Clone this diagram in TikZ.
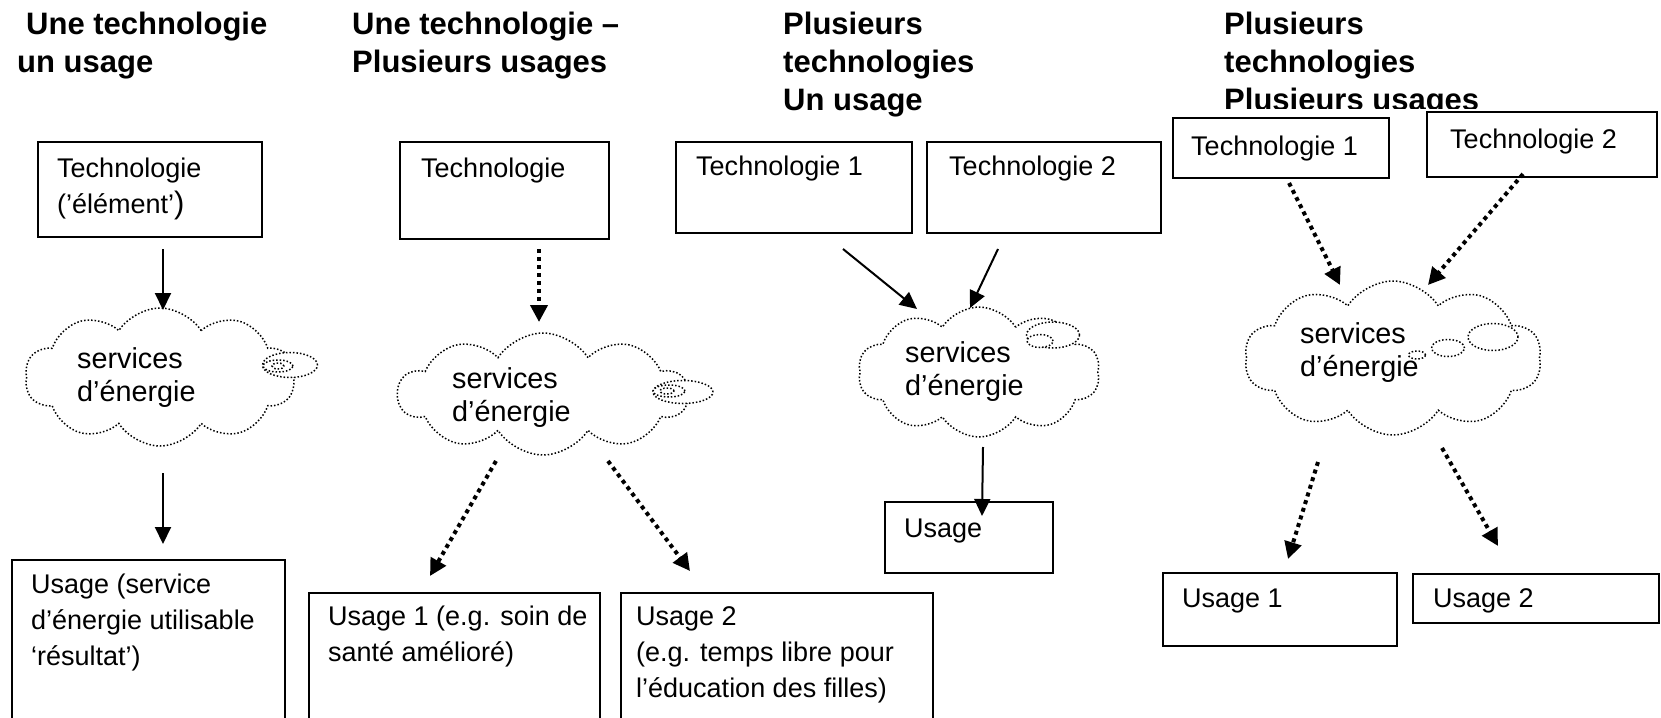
\documentclass[tikz,border=0pt]{standalone}
\usepackage{fontspec}
\setmainfont{Liberation Sans}
\usetikzlibrary{shapes.symbols,shapes.geometric,arrows.meta,fit,calc}

% multi-line text whose baseline is the first line
\newcommand{\ml}[1]{\begin{tabular}[t]{@{}l@{}}#1\end{tabular}}

\begin{document}
\begin{tikzpicture}[x=1pt,y=-1pt,
  box/.style={draw=black,line width=2pt,inner sep=0pt},
  txt/.style={anchor=base west,inner sep=0pt,font=\fontsize{27}{36}\selectfont},
  head/.style={anchor=base west,inner sep=0pt,font=\fontsize{31}{37.5}\selectfont\bfseries},
  ctxt/.style={anchor=base west,inner sep=0pt,font=\fontsize{28.8}{33}\selectfont},
  cloudy/.style={cloud,cloud puffs=10,cloud puff arc=115,cloud ignores aspect,
    draw=black,line width=1.5pt,dash pattern=on 1.5pt off 2pt,inner sep=0pt},
  bub/.style={ellipse,draw=black,fill=white,line width=1.5pt,
    dash pattern=on 1.5pt off 2pt,inner sep=0pt},
  solidarr/.style={draw=black,line width=2pt,-{Triangle[width=16pt,length=17pt]}},
  dotarr/.style={draw=black,line width=4pt,dash pattern=on 4pt off 4pt,
    -{Triangle[width=17pt,length=17pt]}}]
\useasboundingbox (0,0) rectangle (1661,717);

% ---------- headings ----------
\node[head] (h1) at (17,35) {\ml{\hspace*{9pt}Une technologie\\un usage}};
\node[head] (h2) at (352,35) {\ml{Une technologie –\\Plusieurs usages}};
\node[head] (h3) at (783,35) {\ml{Plusieurs\\technologies\\Un usage}};
\begin{scope}
  \clip (1150,0) rectangle (1661,108.5);
  \node[head] (h4) at (1224,35) {\ml{Plusieurs\\technologies\\Plusieurs usages}};
\end{scope}

% ---------- boxes ----------
\node[box,fit={(38,142) (262,237)}] (b1) {};
\node[box,fit={(12,560) (285,740)}] (u1) {};
\node[box,fit={(400,142) (609,239)}] (b2) {};
\node[box,fit={(309,593) (600,740)}] (u2a) {};
\node[box,fit={(621,593) (933,740)}] (u2b) {};
\node[box,fit={(676,142) (912,233)}] (t3a) {};
\node[box,fit={(927,142) (1161,233)}] (t3b) {};
\node[box,fit={(885,502) (1053,573)}] (u3) {};
\node[box,fit={(1173,118) (1389,178)}] (t4a) {};
\node[box,fit={(1427,112) (1657,177)}] (t4b) {};
\node[box,fit={(1163,573) (1397,646)}] (u4a) {};
\node[box,fit={(1413,574) (1659,623)}] (u4b) {};

% ---------- box texts ----------
\node[txt] (b1t) at (57,177) {\ml{Technologie\\(’élément’{\fontsize{31}{36}\selectfont)}}};
\node[txt] (u1t) at (31,593) {\ml{Usage (service\\d’énergie utilisable\\‘résultat’)}};
\node[txt] (b2t) at (421,177) {Technologie};
\node[txt] (u2at) at (328,625) {\ml{Usage 1 (e.g. soin de\\santé amélioré)}};
\node[txt] (u2bt) at (636,625) {\ml{Usage 2\\(e.g. temps libre pour\\l’éducation des filles)}};
\node[txt] (t3at) at (696,175) {Technologie 1};
\node[txt] (t3bt) at (949,175) {Technologie 2};
\node[txt] (u3t) at (904,537) {Usage};
\node[txt] (t4at) at (1191,155) {Technologie 1};
\node[txt] (t4bt) at (1450,148) {Technologie 2};
\node[txt] (u4at) at (1182,607) {Usage 1};
\node[txt] (u4bt) at (1433,607) {Usage 2};

% ---------- clouds ----------
\node[cloudy,minimum width=270pt,minimum height=138pt] (c1) at (160,377) {};
\node[bub,minimum width=55pt,minimum height=25pt] (c1b) at (290,365) {};
\node[bub,minimum width=30pt,minimum height=12pt] (c1m) at (278,366) {};
\node[bub,minimum width=12pt,minimum height=6pt] (c1s) at (278,366) {};
\node[ctxt] (c1t) at (77,368) {\ml{services\\d’énergie}};

\node[cloudy,minimum width=290pt,minimum height=122pt] (c2) at (543,394) {};
\node[bub,minimum width=60pt,minimum height=23pt] (c2b) at (683,392) {};
\node[bub,minimum width=32pt,minimum height=12pt] (c2m) at (669,391) {};
\node[bub,minimum width=14pt,minimum height=6pt] (c2s) at (667,391) {};
\node[ctxt] (c2t) at (452,388) {\ml{services\\d’énergie}};

\node[cloudy,minimum width=242pt,minimum height=130pt] (c3) at (979,372) {};
\node[bub,minimum width=53pt,minimum height=26pt] (c3b) at (1053,335) {};
\node[bub,minimum width=26pt,minimum height=13pt] (c3m) at (1040,341) {};
\node[ctxt] (c3t) at (905,362) {\ml{services\\d’énergie}};

\node[cloudy,minimum width=297pt,minimum height=154pt] (c4) at (1393,358) {};
\node[bub,minimum width=50pt,minimum height=27pt] (c4b) at (1493,337) {};
\node[bub,minimum width=33pt,minimum height=17pt] (c4m) at (1448,348) {};
\node[bub,minimum width=17pt,minimum height=8pt] (c4s) at (1417,355) {};
\node[ctxt] (c4t) at (1300,343) {\ml{services\\d’énergie}};

% ---------- connectors ----------
\draw[solidarr] ([shift={(13,11)}]b1.south) -- ([shift={(3,-67)}]c1.center);
\draw[solidarr] ([shift={(3,96)}]c1.center) -- ([shift={(14.5,-15)}]u1.north);

\draw[dotarr] ([shift={(34.5,9)}]b2.south) -- ([shift={(-4,-72)}]c2.center);
\draw[dotarr] ([shift={(-47,67)}]c2.center) -- ([shift={(-24.5,-16)}]u2a.north);
\draw[dotarr] ([shift={(65,67)}]c2.center) -- ([shift={(-87,-21)}]u2b.north);

\draw[solidarr] ([shift={(49,15)}]t3a.south) -- ([shift={(-62,-63)}]c3.center);
\draw[solidarr] ([shift={(-46,15)}]t3b.south) -- ([shift={(-9,-64)}]c3.center);
\draw[solidarr] ([shift={(4,75)}]c3.center) -- ([shift={(13,15)}]u3.north);

\draw[dotarr] ([shift={(8,4)}]t4a.south) -- ([shift={(-53,-73)}]c4.center);
\draw[dotarr] ([shift={(-19,-4)}]t4b.south) -- ([shift={(35,-73)}]c4.center);
\draw[dotarr] ([shift={(-75,104)}]c4.center) -- ([shift={(8,-13)}]u4a.north);
\draw[dotarr] ([shift={(49,90)}]c4.center) -- ([shift={(-38,-27)}]u4b.north);
\end{tikzpicture}
\end{document}
